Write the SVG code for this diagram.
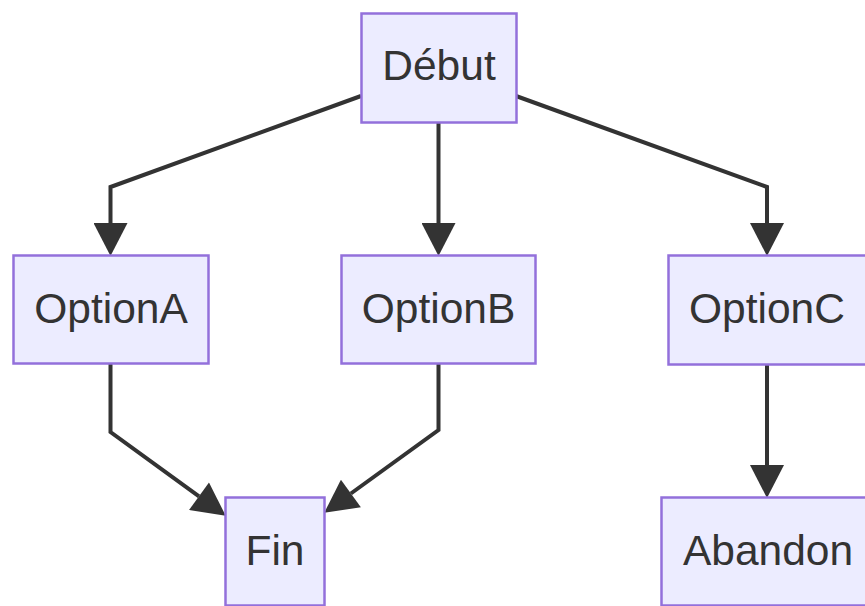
<svg xmlns="http://www.w3.org/2000/svg" width="865" height="606" viewBox="0 0 865 606">
<style>
.node rect{fill:#ECECFF;stroke:#9370DB;stroke-width:2.5}
.node text{font-family:"Liberation Sans",Arial,sans-serif;font-size:42.5px;fill:#333333;text-anchor:middle}
.edge{fill:none;stroke:#333333;stroke-width:4}
</style>
<defs>
<marker id="arrow" markerUnits="userSpaceOnUse" markerWidth="34" markerHeight="34" refX="0" refY="16.5" orient="auto" viewBox="0 0 32 33">
<path d="M0,0 L32,16.5 L0,33 z" fill="#333333"/>
</marker>
</defs>
<rect width="865" height="606" fill="#ffffff"/>
<g id="edges">
<path class="edge" d="M361,96 L110.5,187 L110.5,223" marker-end="url(#arrow)"/>
<path class="edge" d="M438.5,122 L438.5,223" marker-end="url(#arrow)"/>
<path class="edge" d="M516,96 L767,187 L767,223" marker-end="url(#arrow)"/>
<path class="edge" d="M110.5,363 L110.5,432 L199,496.3" marker-end="url(#arrow)"/>
<path class="edge" d="M438.5,363 L438.5,430 L350.9,493.5" marker-end="url(#arrow)"/>
<path class="edge" d="M767,365 L767,465" marker-end="url(#arrow)"/>
</g>
<g id="debut" class="node"><rect x="361.5" y="13.5" width="155" height="109"/><text x="439" y="80">Début</text></g>
<g id="optionA" class="node"><rect x="13.5" y="255.5" width="195" height="108"/><text x="111" y="323">OptionA</text></g>
<g id="optionB" class="node"><rect x="341.5" y="255.5" width="194" height="108"/><text x="438.5" y="323">OptionB</text></g>
<g id="optionC" class="node"><rect x="668.5" y="255.5" width="198" height="109"/><text x="767" y="323">OptionC</text></g>
<g id="fin" class="node"><rect x="225.5" y="497.5" width="99" height="108"/><text x="275" y="565">Fin</text></g>
<g id="abandon" class="node"><rect x="661.5" y="497.5" width="213" height="108"/><text x="768" y="565">Abandon</text></g>
</svg>
